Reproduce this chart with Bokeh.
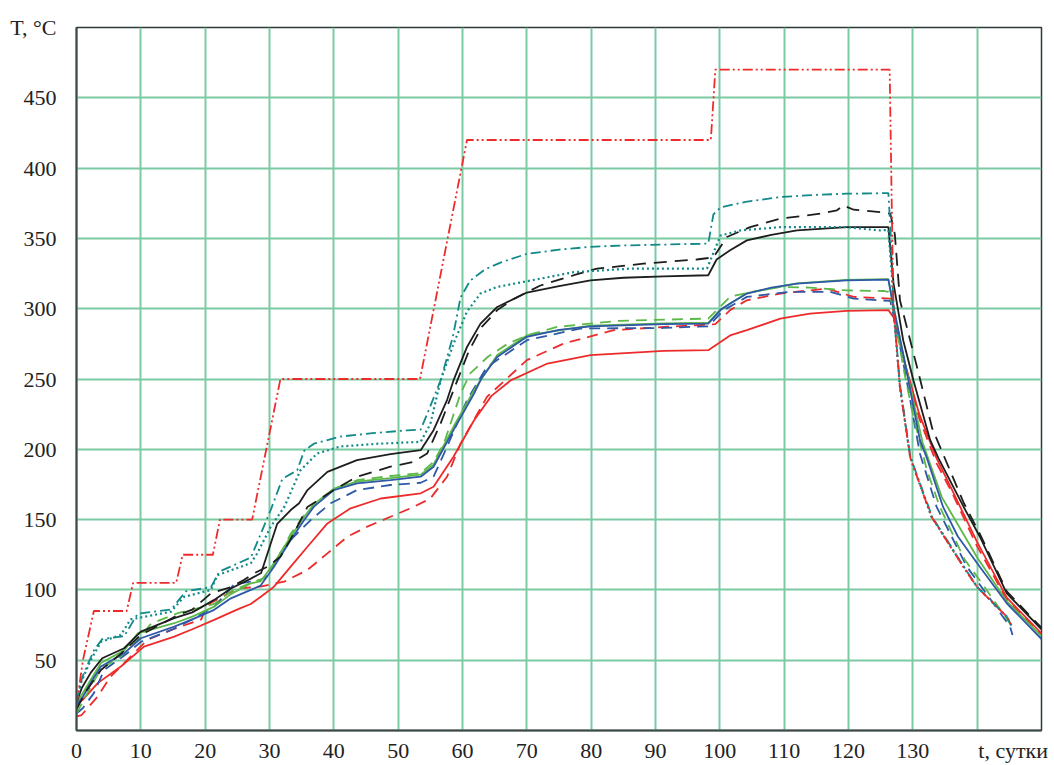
from bokeh.plotting import figure
from bokeh.models import Range1d, FixedTicker
from bokeh.embed import file_html
from bokeh.resources import INLINE

# ---------------- data (t in days, T in °C) ----------------
x_grid = [10, 20, 30, 40, 50, 60, 70, 80, 90, 100, 110, 120, 130, 140]
x_label_pos = [0, 10, 20, 30, 40, 50, 60, 70, 80, 90, 100, 110, 120, 130, 145.6]
x_labels = ["0", "10", "20", "30", "40", "50", "60", "70", "80", "90", "100", "110", "120", "130", "t, сутки"]
y_grid = [50, 100, 150, 200, 250, 300, 350, 400, 450]
y_label_pos = [50, 100, 150, 200, 250, 300, 350, 400, 450, 500]
y_labels = ["50", "100", "150", "200", "250", "300", "350", "400", "450", "T, °C"]

# red dash-dot-dot (heater)
a_t = [0, 1, 2.7, 7.8, 8.8, 15.5, 16.5, 21.2, 22.3, 27.3, 31.7, 53.4, 60.7, 98.6, 99.3, 126.4, 126.7, 127, 128, 129.6, 132.9, 137.9, 140, 144.6, 145.4]
a_T = [18, 50, 85, 85, 105, 105, 125, 125, 150, 150, 250, 250, 420, 420, 470, 470, 380, 300, 244, 194, 152, 116, 102, 81, 74]

# teal dash-dot
b_t = [0, 0.9, 2.7, 4, 7.4, 9.5, 14.7, 17, 20.9, 22.2, 27.1, 30.2, 32, 34.3, 35.4, 36.9, 41, 46, 51.4, 53.5, 54.5, 56.6, 58.5, 59.7, 61.2, 63.5, 66, 70, 75, 79.9, 85, 91.3, 98.2, 99, 100.1, 104, 109.4, 115, 119.7, 126.2, 126.6, 127, 128, 129.6, 133, 138, 140, 144.6, 145.4]
b_T = [20, 38, 57, 65, 67, 83, 86, 99, 102, 113, 123, 157, 179, 185, 199, 204, 209, 211.5, 213.5, 214, 225, 249, 280, 308, 320, 328, 333, 339, 342, 344, 345, 345.6, 346.3, 367, 372, 376, 379.4, 381, 381.8, 382.2, 350, 300, 246, 195, 152, 116, 102, 81, 74]

# teal dotted
c_t = [0, 0.7, 2.2, 3.8, 6.9, 8.4, 14.7, 16.7, 20.9, 21.9, 27.1, 28.1, 30.2, 32.3, 34.8, 37.4, 41, 47, 53.5, 55, 56.6, 58.6, 60.7, 62.8, 65.4, 70, 77.3, 86.1, 98, 100.1, 103.2, 109.4, 119.7, 124.9, 126.2, 126.8, 127, 128, 129.6, 132.9, 137.9, 140, 144.6, 145.4]
c_T = [20, 34, 50, 63, 68, 79, 84.5, 95, 100, 110.5, 119, 126, 145, 159, 185, 197, 202, 204, 205.3, 218, 249, 275, 298, 310.8, 315.5, 319.5, 326, 328.5, 328.5, 352, 355.7, 358, 358, 355.7, 356, 320, 299, 244, 194, 152, 116.5, 102, 81, 74]

# black solid
d_t = [0, 0.8, 2.2, 4, 7.4, 10, 15.2, 18, 21.4, 24, 27.1, 28.7, 29.7, 31.2, 33.3, 34.6, 35.9, 39, 43.6, 48.8, 53.5, 55.5, 57.6, 58.6, 60.7, 62.8, 65.4, 70, 75, 79.9, 85, 91.3, 98.2, 99.5, 101.6, 104.2, 108, 112, 119.7, 126.2, 127, 128.5, 130.1, 132.7, 134, 137.9, 140.4, 144.6, 150]
d_T = [20, 30, 41, 51.4, 58.5, 70.3, 79.9, 84, 92.9, 101, 108, 112, 126, 147, 156.8, 161.6, 171, 184, 192.3, 196.6, 199.4, 213.6, 235, 249, 272.8, 289.4, 301.2, 311.5, 316, 320.2, 322, 323, 323.8, 335, 341.6, 348.6, 352.5, 355.7, 358, 358, 318, 277.6, 249, 206.5, 193.5, 159, 138, 97.6, 72]

# black dashed
e_t = [0, 1.5, 3.8, 7, 10, 15.7, 18, 20.9, 24, 26, 27.6, 29.7, 31.7, 33.8, 35.9, 40, 43.6, 48.8, 52.4, 54.5, 56.6, 59.2, 61, 63, 65.4, 68, 72.1, 77.3, 80.9, 88.1, 96.4, 99, 101.1, 104.7, 109.4, 115.6, 118.2, 119.2, 120.8, 124.9, 126.5, 127.2, 128, 130.9, 133, 137.9, 140.4, 144.6, 150]
e_T = [15, 28, 43, 55, 68, 82, 86, 97.6, 102, 107, 111.8, 116.5, 123.6, 140.3, 159, 171, 180.5, 187.6, 191.1, 197, 218.4, 249, 270, 287, 299, 307, 316.5, 323.8, 328.5, 332, 335, 336.5, 351, 358, 364, 367.6, 370, 373.5, 370.4, 368.7, 367.6, 353, 306, 254, 215, 162, 140, 99, 73]

# blue solid
f_t = [0, 1, 2.2, 3.8, 7.4, 10, 15.2, 18, 21.4, 24, 27.1, 28.6, 30.7, 33.3, 35.4, 36.9, 40, 43.6, 48.8, 53.5, 55.5, 58.6, 61.8, 63, 65.4, 70, 75, 79.9, 91.3, 98.2, 100.1, 101.6, 104.2, 108, 112, 119.7, 126.2, 127, 128.5, 131.1, 132.2, 134.7, 137, 140, 144.6, 150]
f_T = [18, 24, 34, 45.5, 54.9, 65.6, 73.9, 79, 85.8, 94, 100, 103, 116.5, 135.5, 149.7, 159.2, 171, 175.8, 178.1, 180.5, 187.6, 213.6, 239.7, 251, 265.7, 280, 285, 287.5, 289, 289.4, 299, 303.7, 310.8, 315, 317.9, 320.2, 320.7, 301, 268, 206.5, 193.5, 159, 138, 119, 90.5, 65]

# green solid
g_t = [0, 2.2, 3.8, 7.4, 9.5, 15.2, 18, 21.4, 24, 27.1, 28.6, 30.7, 33.3, 35.4, 36.9, 40, 43.6, 48.8, 53.5, 55.5, 58.6, 61.8, 65.4, 70, 79.9, 91.3, 98.2, 100.1, 104.2, 112, 119.7, 126.2, 127, 128.5, 131.5, 134.5, 140, 144.6, 150]
g_T = [19, 36, 48, 57, 69, 76.3, 81, 88.1, 97, 104.7, 106, 119, 138, 152, 161, 172, 177, 179.5, 182, 189, 216, 242, 267, 281, 288, 289.5, 290, 299.5, 311, 318, 320.5, 321, 301, 267, 205, 166, 123, 92, 67]

# green dashed
h_t = [0, 1.5, 3.8, 7, 9, 11.6, 15.7, 18, 21.4, 24, 27.1, 29, 31.2, 33.3, 35.4, 37.4, 40, 43.6, 48.8, 53.5, 55.5, 57.1, 59.7, 61.2, 64, 67, 70, 74.7, 84, 98.2, 101.6, 105, 109.4, 114, 119.7, 125.4, 126.2, 127, 128.5, 130, 132.2, 134.2, 138, 141, 145.4]
h_T = [12, 25, 44, 53, 62, 76, 83.4, 86, 90, 99, 105, 108, 121, 140, 153, 161.6, 172, 178, 181, 183, 191, 204, 239.7, 254, 266, 275, 281, 287, 291.3, 293, 308.5, 312, 315.5, 315, 313, 312.6, 312, 300, 258.6, 225, 185, 159, 122, 103, 74]

# blue dashed
i_t = [0, 1, 2.7, 4.3, 7.9, 10, 15, 18, 21.4, 24.5, 28.6, 29.7, 31.2, 33.3, 36.4, 39.5, 43.6, 48.8, 53.5, 55.5, 57.6, 60.7, 63.8, 70, 78.3, 91.3, 98.2, 100.6, 104.2, 110.9, 117.1, 120.8, 126.5, 127.5, 129, 131.1, 133.7, 138.4, 145.1, 145.5]
i_T = [12, 16, 26.6, 43, 54.9, 63, 72, 79, 88, 104, 107, 110, 123.6, 135.5, 149.7, 161.6, 171, 174.6, 176.2, 180.5, 201.8, 235, 258.6, 277.6, 285.9, 286.3, 287.5, 299, 308.4, 312, 312, 307.2, 305.5, 285, 250, 197, 159, 116.5, 74, 68]

# red dashed
j_t = [0, 0.8, 3.3, 5.3, 7.9, 11, 15, 19.4, 20.2, 25, 28.6, 32.3, 35.9, 39, 42.1, 45.2, 48.8, 52.4, 55, 57.6, 59.7, 63.8, 68, 70, 75.7, 83.5, 91.3, 99.3, 101.6, 104.2, 109.4, 116.6, 120.8, 126.5, 127.2, 128.5, 131, 133.7, 136, 140, 144.6, 150]
j_T = [10, 11, 24.2, 38.4, 50.2, 64.4, 72, 79, 89, 101, 102.3, 105.9, 114.2, 126, 137.8, 145, 152, 159, 165, 180.5, 204, 237.3, 255, 263.4, 275.2, 284.7, 287, 289, 299, 306, 310.8, 314.3, 308.4, 307.2, 295, 265, 222, 190, 170, 131, 93, 68]

# red solid
k_t = [0, 1, 3.3, 6.9, 10.5, 15.2, 18, 21.4, 24, 25.5, 27.1, 28.6, 30.7, 33.3, 35.9, 39, 42.6, 47.3, 53.5, 55.5, 58.6, 61.8, 64.5, 67.5, 73.2, 79.9, 91.3, 98.2, 101.6, 104.2, 109.4, 114, 119.7, 126.2, 127, 128.5, 131, 133.7, 136, 140, 144.6, 150]
k_T = [18, 22, 33.7, 45.5, 59.7, 66.8, 72, 78.7, 84, 87, 90, 95, 102.3, 116.5, 130.7, 147.3, 158, 165, 168.7, 173.4, 194.7, 220.7, 238, 249, 261, 267, 270, 270.5, 281, 284.7, 293, 296.5, 298.4, 299, 294, 265.7, 225, 193.5, 172, 134, 94.5, 69]

# ---------------- styling ----------------
RED = "#ee2b2b"
TEAL = "#13898a"
BLACK = "#1e1e1e"
BLUE = "#2f58a8"
GREEN = "#5cb947"
GRID = "#7ccaa2"
FONT = "Liberation Serif"

p = figure(width=1054, height=765, output_backend="svg", toolbar_location=None,
           x_range=Range1d(0, 150), y_range=Range1d(0, 500),
           min_border_left=76, min_border_right=13, min_border_top=27, min_border_bottom=34)
p.background_fill_color = "white"
p.border_fill_color = "white"
p.outline_line_color = "#2e3a38"
p.outline_line_width = 1.5

p.xaxis.ticker = FixedTicker(ticks=x_label_pos)
p.yaxis.ticker = FixedTicker(ticks=y_label_pos)
p.xaxis.major_label_overrides = dict(zip(x_label_pos, x_labels))
p.yaxis.major_label_overrides = dict(zip(y_label_pos, y_labels))
for ax in (p.xaxis, p.yaxis):
    ax.axis_line_color = "#3a4a48"
    ax.axis_line_width = 2
    ax.major_tick_line_color = None
    ax.minor_tick_line_color = None
    ax.major_tick_out = 0
    ax.major_tick_in = 0
    ax.major_label_text_font = FONT
    ax.major_label_text_font_size = "22px"
    ax.major_label_text_color = "#222222"
p.xaxis.major_label_standoff = 7
p.yaxis.major_label_standoff = 20

p.xgrid.ticker = FixedTicker(ticks=x_grid)
p.ygrid.ticker = FixedTicker(ticks=y_grid)
for g in (p.xgrid, p.ygrid):
    g.grid_line_color = GRID
    g.grid_line_width = 2
    g.grid_line_alpha = 1.0

LW = 1.8
p.line(k_t, k_T, line_color=RED, line_width=LW)
p.line(j_t, j_T, line_color=RED, line_width=LW, line_dash="11 7")
p.line(i_t, i_T, line_color=BLUE, line_width=LW, line_dash="11 7")
p.line(h_t, h_T, line_color=GREEN, line_width=LW, line_dash="11 7")
p.line(g_t, g_T, line_color=GREEN, line_width=LW)
p.line(f_t, f_T, line_color=BLUE, line_width=LW)
p.line(e_t, e_T, line_color=BLACK, line_width=LW, line_dash="13 8")
p.line(d_t, d_T, line_color=BLACK, line_width=LW)
p.line(c_t, c_T, line_color=TEAL, line_width=2.2, line_dash="2 3")
p.line(b_t, b_T, line_color=TEAL, line_width=LW, line_dash="10 4 2 4")
p.line(a_t, a_T, line_color=RED, line_width=LW, line_dash="10 3 2 3 2 3")

open("out.html", "w").write(file_html(p, INLINE))
